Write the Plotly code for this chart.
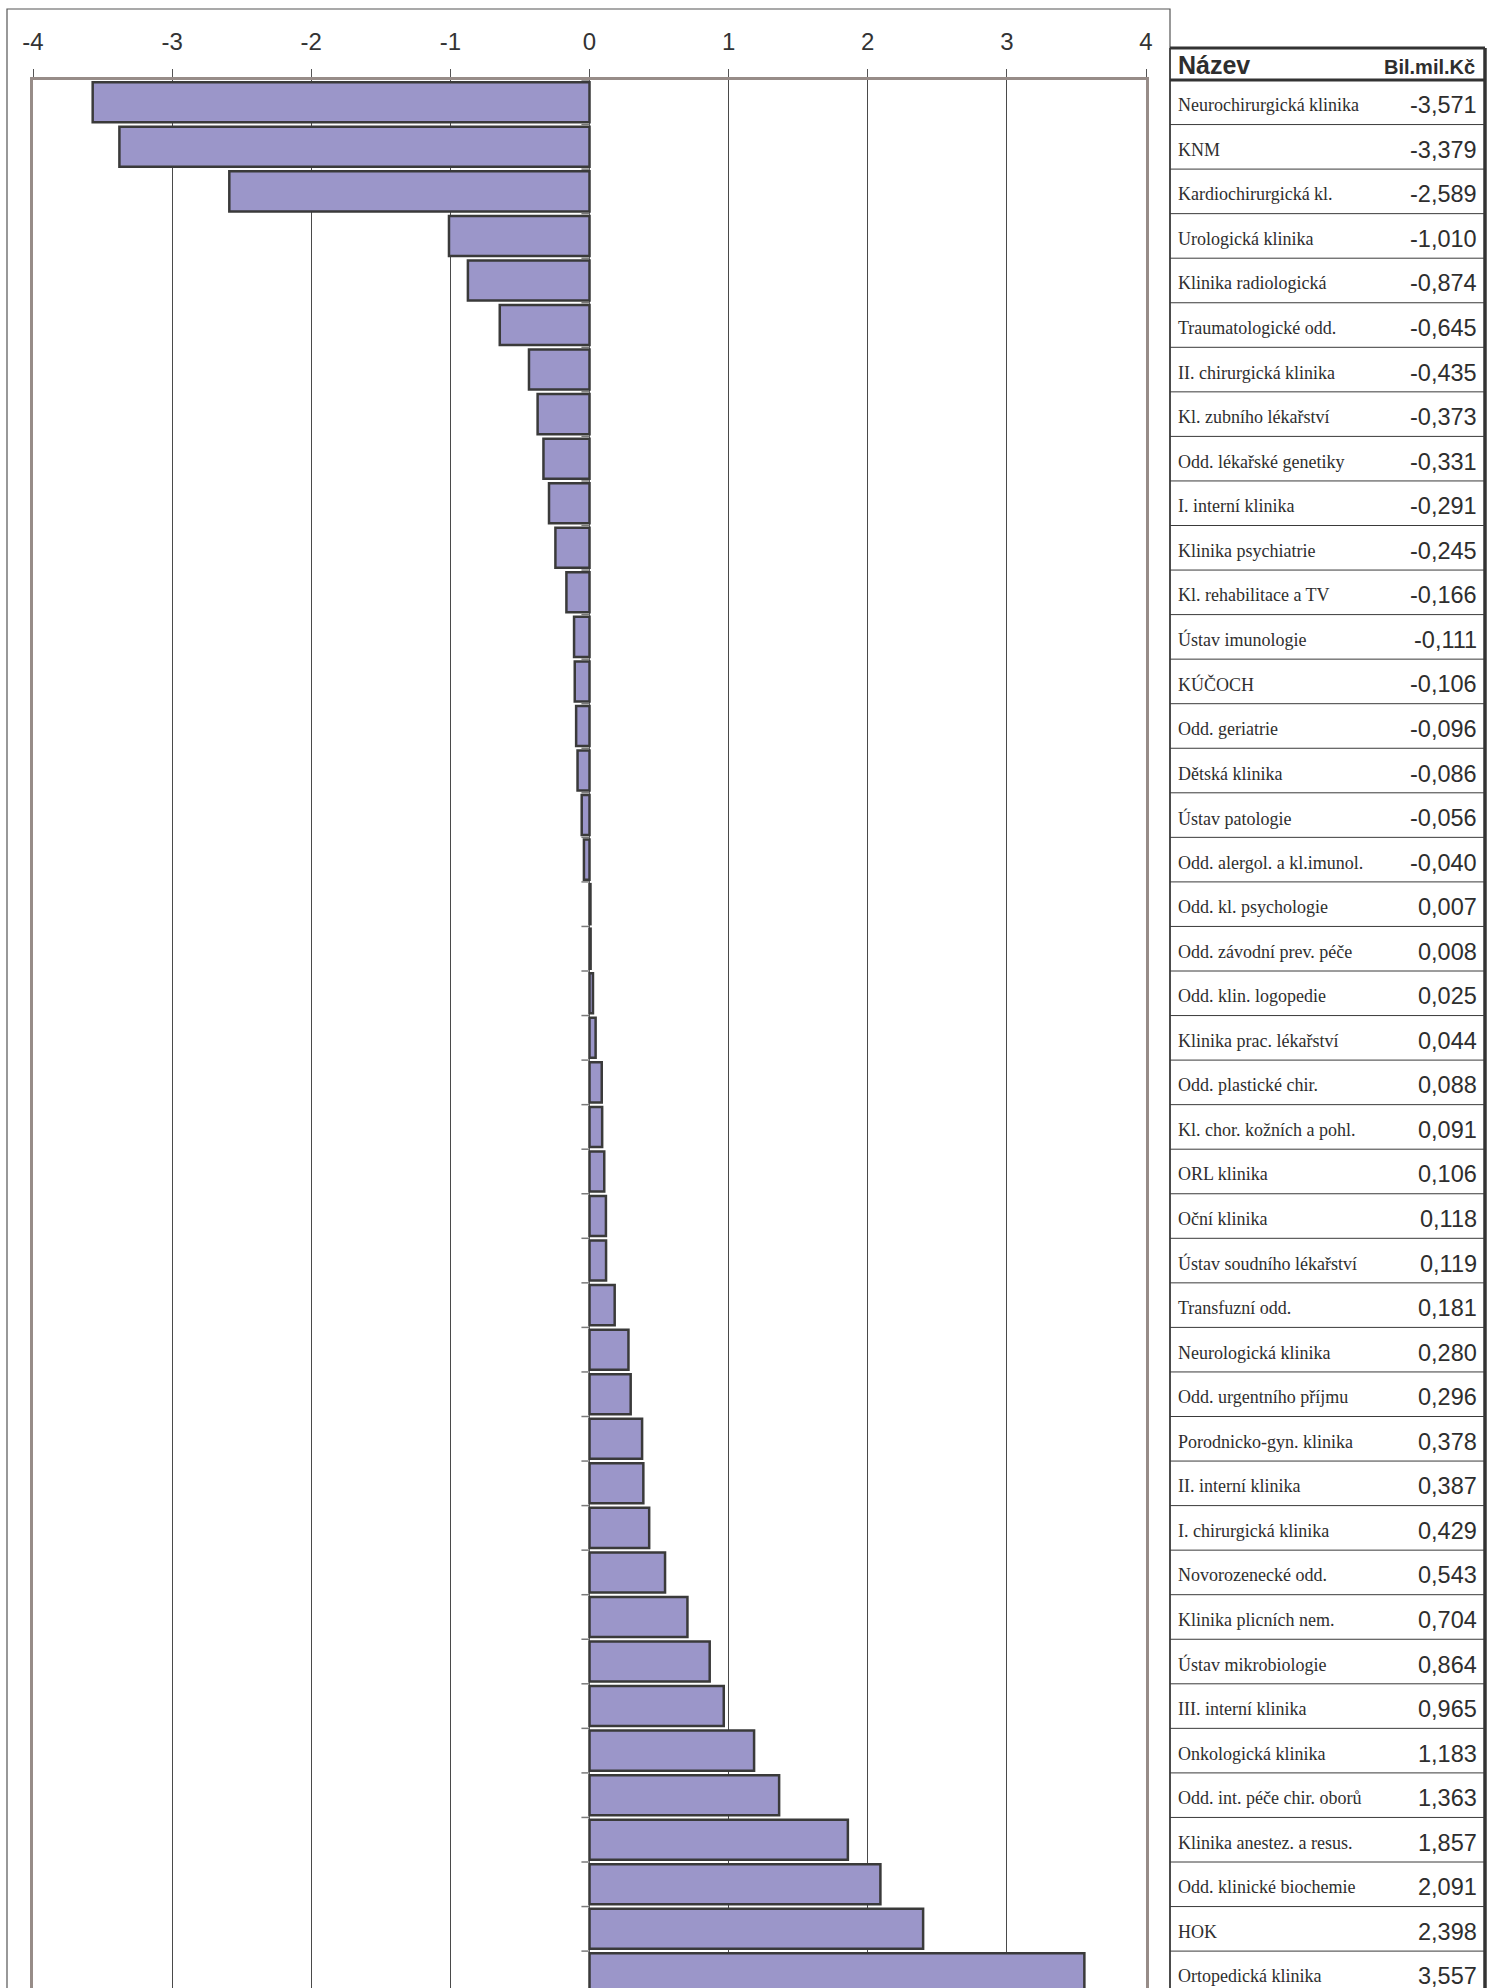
import plotly.graph_objects as go

# ---- data ----
names = [
    "Neurochirurgická klinika", "KNM", "Kardiochirurgická kl.", "Urologická klinika",
    "Klinika radiologická", "Traumatologické odd.", "II. chirurgická klinika",
    "Kl. zubního lékařství", "Odd. lékařské genetiky", "I. interní klinika",
    "Klinika psychiatrie", "Kl. rehabilitace a TV", "Ústav imunologie", "KÚČOCH",
    "Odd. geriatrie", "Dětská klinika", "Ústav patologie", "Odd. alergol. a kl.imunol.",
    "Odd. kl. psychologie", "Odd. závodní prev. péče", "Odd. klin. logopedie",
    "Klinika prac. lékařství", "Odd. plastické chir.", "Kl. chor. kožních a pohl.",
    "ORL klinika", "Oční klinika", "Ústav soudního lékařství", "Transfuzní odd.",
    "Neurologická klinika", "Odd. urgentního příjmu", "Porodnicko-gyn. klinika",
    "II. interní klinika", "I. chirurgická klinika", "Novorozenecké odd.",
    "Klinika plicních nem.", "Ústav mikrobiologie", "III. interní klinika",
    "Onkologická klinika", "Odd. int. péče chir. oborů", "Klinika anestez. a resus.",
    "Odd. klinické biochemie", "HOK", "Ortopedická klinika",
]
values = [
    -3.571, -3.379, -2.589, -1.010, -0.874, -0.645, -0.435, -0.373, -0.331, -0.291,
    -0.245, -0.166, -0.111, -0.106, -0.096, -0.086, -0.056, -0.040,
    0.007, 0.008, 0.025, 0.044, 0.088, 0.091, 0.106, 0.118, 0.119, 0.181,
    0.280, 0.296, 0.378, 0.387, 0.429, 0.543, 0.704, 0.864, 0.965,
    1.183, 1.363, 1.857, 2.091, 2.398, 3.557,
]
tick_vals = [-4, -3, -2, -1, 0, 1, 2, 3, 4]
tick_text = ["-4", "-3", "-2", "-1", "0", "1", "2", "3", "4"]
header_name = "Název"
header_value = "Bil.mil.Kč"

BAR_FILL = "#9b96c9"
BAR_LINE = "#3a3a3a"
BORDER = "#978c88"
TXT = "#2e2e2e"

W, H = 1497, 1988
ML, MR, MT, MB = 33, 351, 80, 0
PW = W - ML - MR
PH = H - MT - MB


def px_x(p):
    return (p - ML) / PW


def px_y(p):
    return (H - MB - p) / PH


fig = go.Figure()
fig.add_trace(go.Bar(
    x=values, y=names, orientation="h",
    marker=dict(color=BAR_FILL, line=dict(color=BAR_LINE, width=2.5)),
    hoverinfo="x+y",
))

n = len(names)
shapes = []
annotations = []

# category boundary ticks at zero
for i in range(-1, n):
    shapes.append(dict(type="line", xref="x", yref="y", x0=-0.058, x1=0,
                       y0=i + 0.5, y1=i + 0.5, line=dict(color="#7a7a7a", width=1.5)))

# outer frame of chart
shapes.append(dict(type="rect", xref="paper", yref="paper",
                   x0=px_x(7), x1=px_x(1170), y0=-0.05, y1=px_y(9),
                   line=dict(color="#555555", width=1.2)))

# table frame
tx0, tx1 = px_x(1170), px_x(1485)
shapes.append(dict(type="line", xref="paper", yref="paper", x0=tx0, x1=tx1,
                   y0=px_y(48), y1=px_y(48), line=dict(color="#333333", width=3)))
shapes.append(dict(type="line", xref="paper", yref="paper", x0=tx0, x1=tx1,
                   y0=px_y(80), y1=px_y(80), line=dict(color="#333333", width=3)))
shapes.append(dict(type="line", xref="paper", yref="paper", x0=tx1, x1=tx1,
                   y0=-0.05, y1=px_y(48), line=dict(color="#333333", width=3.5)))
shapes.append(dict(type="line", xref="paper", yref="paper", x0=tx0, x1=tx0,
                   y0=-0.05, y1=px_y(48), line=dict(color="#333333", width=1.5)))
for i in range(n - 1):
    shapes.append(dict(type="line", xref="paper", yref="y", x0=tx0, x1=tx1,
                       y0=i + 0.5, y1=i + 0.5, line=dict(color="#3a3a3a", width=1)))

# table header
annotations.append(dict(xref="paper", yref="paper", x=px_x(1176), y=px_y(65),
                        xanchor="left", yanchor="middle", showarrow=False,
                        text="<b>" + header_name + "</b>",
                        font=dict(family="Liberation Sans", size=25, color=TXT)))
annotations.append(dict(xref="paper", yref="paper", x=px_x(1477), y=px_y(67),
                        xanchor="right", yanchor="middle", showarrow=False,
                        text="<b>" + header_value + "</b>",
                        font=dict(family="Liberation Sans", size=20, color=TXT)))

# table rows
for nm, v in zip(names, values):
    annotations.append(dict(xref="paper", yref="y", x=px_x(1176), y=nm,
                            xanchor="left", yanchor="middle", showarrow=False,
                            text=nm, yshift=-3,
                            font=dict(family="Liberation Serif", size=18, color=TXT)))
    annotations.append(dict(xref="paper", yref="y", x=px_x(1479), y=nm,
                            xanchor="right", yanchor="middle", showarrow=False,
                            text=f"{v:.3f}".replace(".", ","), yshift=-3,
                            font=dict(family="Liberation Sans", size=23.5, color=TXT)))

fig.update_layout(
    width=W, height=H, autosize=False,
    margin=dict(l=ML, r=MR, t=MT, b=MB, pad=0),
    paper_bgcolor="white", plot_bgcolor="white",
    showlegend=False, bargap=0.1,
    shapes=shapes, annotations=annotations,
    xaxis=dict(
        range=[-4, 4], side="top", tickvals=tick_vals, ticktext=tick_text,
        ticks="outside", ticklen=8, tickwidth=1, tickcolor="#555555",
        ticklabelstandoff=9,
        tickfont=dict(family="Liberation Sans", size=24, color="#333333"),
        showgrid=True, gridcolor="#4a4a4a", gridwidth=1, zeroline=False,
        showline=True, linecolor=BORDER, linewidth=3,
    ),
    yaxis=dict(
        type="category", categoryorder="array", categoryarray=names,
        range=[-0.5 + PH / 44.55, -0.5],
        showticklabels=False, ticks="", showgrid=False, zeroline=False,
        showline=True, linecolor=BORDER, linewidth=3, mirror=True,
    ),
)

fig.write_html("out.html", config={"displayModeBar": False},
               post_script="document.body.style.margin='0';document.body.style.overflow='hidden';")
